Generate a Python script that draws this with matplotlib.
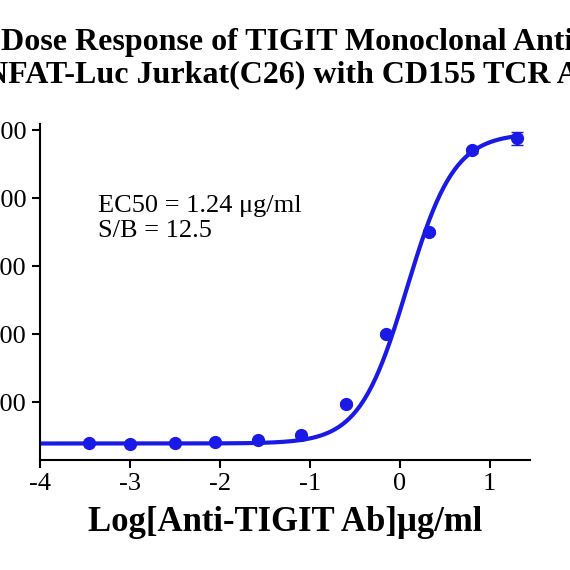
import matplotlib.pyplot as plt
import numpy as np

plt.rcParams['font.family'] = ['Liberation Serif', 'DejaVu Serif']
plt.rcParams['axes.unicode_minus'] = False

log_conc = [-3.45, -3.0, -2.5, -2.05, -1.57, -1.1, -0.6, -0.15, 0.33, 0.8, 1.3]
signal = [3970, 3820, 3970, 4120, 4410, 5150, 9710, 20000, 35000, 47060, 48820]
err = [150, 150, 150, 150, 150, 200, 300, 300, 300, 400, 1000]

# 4PL fit parameters
bottom, top, logec50, hill = 3900, 49600, 0.08, 1.65

fig = plt.figure(figsize=(5.7, 5.7), dpi=100)
ax = fig.add_axes([0.07, 0.193, 0.86, 0.59])
color = '#1a1ae6'

xs = np.linspace(-4, 1.3, 400)
ax.plot(xs, bottom + (top - bottom) / (1 + 10 ** ((logec50 - xs) * hill)),
        color=color, lw=3)
ax.errorbar(log_conc, signal, yerr=err, fmt='o', color=color, ms=8.5,
            capsize=4, elinewidth=1.5)

ax.set_xlim(-4, 1.45)
ax.set_ylim(1470, 51000)
ax.set_xticks([-4, -3, -2, -1, 0, 1])
ax.set_yticks([10000, 20000, 30000, 40000, 50000])
ax.tick_params(labelsize=19, width=1.5, length=6)
for s in ['top', 'right']:
    ax.spines[s].set_visible(False)
for s in ['left', 'bottom']:
    ax.spines[s].set_linewidth(1.5)

ax.set_xlabel('Log[Anti-TIGIT Ab]\u03bcg/ml', fontsize=25, fontweight='bold',
              labelpad=8)
ax.text(-3.35, 37000, 'EC50 = 1.24 \u03bcg/ml\nS/B = 12.5', fontsize=19,
        va='center', linespacing=1.2)
fig.text(0.6, 0.897, 'Dose Response of TIGIT Monoclonal Antibody on\n'
         'NFAT-Luc Jurkat(C26) with CD155 TCR Activation',
         ha='center', va='center', fontsize=23, fontweight='bold',
         linespacing=1.15)

fig.savefig('out.png')
